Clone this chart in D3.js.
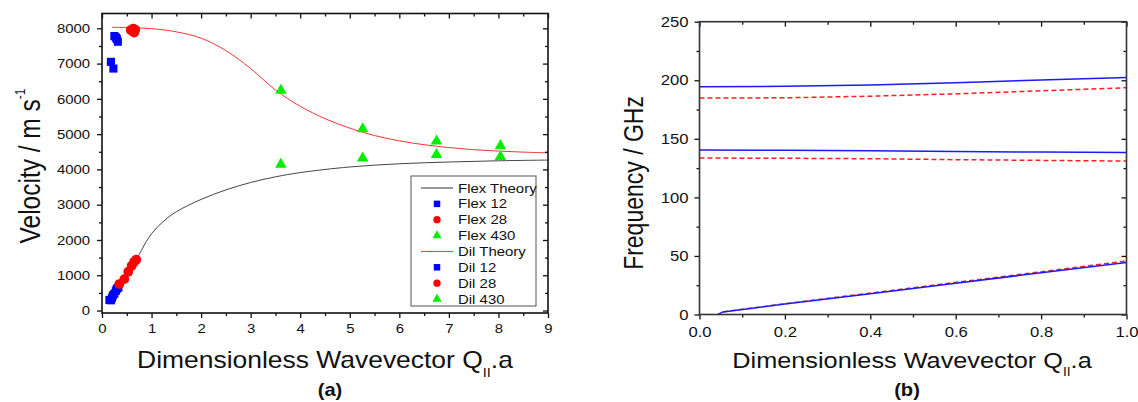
<!DOCTYPE html>
<html>
<head>
<meta charset="utf-8">
<script src="https://cdn.jsdelivr.net/npm/d3@7"></script>
<style>
  body { margin: 0; background: #fff; }
  svg text { font-family: "Liberation Sans", Arial, sans-serif; fill: #111; }
</style>
</head>
<body>
<svg id="fig" width="1138" height="402"></svg>
<script>

/*********************/
/*** DATA (a)      ***/
/*********************/

// theory curves, velocity vs dimensionless wavevector
let flexTheoryQ = [0.7, 0.8, 1.0, 1.25, 1.5, 2.0, 2.5, 3.0, 3.5, 4.0, 5.0, 6.0, 7.0, 8.0, 9.0],
    flexTheoryV = [1440, 1720, 2180, 2540, 2800, 3150, 3420, 3630, 3790, 3910, 4070, 4160, 4210, 4245, 4265];
let dilTheoryQ = [0.2, 0.5, 1.0, 1.5, 2.0, 2.5, 3.0, 3.5, 4.0, 4.5, 5.0, 5.5, 6.0, 6.5, 7.0, 7.5, 8.0, 8.5, 9.0],
    dilTheoryV = [8030, 8020, 7990, 7900, 7720, 7370, 6860, 6250, 5790, 5440, 5170, 4960, 4810, 4700, 4620, 4560, 4520, 4490, 4470];

// measured points
let flex12Q = [0.15, 0.18, 0.20, 0.22, 0.25, 0.28, 0.30, 0.33],
    flex12V = [300, 290, 360, 430, 480, 560, 620, 650];
let flex28Q = [0.35, 0.45, 0.53, 0.60, 0.65, 0.69],
    flex28V = [750, 890, 1100, 1270, 1380, 1440];
let flex430Q = [3.61, 5.26, 6.75, 8.04],
    flex430V = [4140, 4320, 4420, 4360];
let dil12Q = [0.18, 0.23, 0.25, 0.28, 0.30, 0.32],
    dil12V = [7050, 6860, 7780, 7740, 7700, 7620];
let dil28Q = [0.58, 0.62, 0.63, 0.65, 0.67],
    dil28V = [7950, 7910, 7990, 7880, 7960];
let dil430Q = [3.61, 5.26, 6.75, 8.04],
    dil430V = [6240, 5150, 4800, 4670];

let legendLabels = ["Flex Theory", "Flex 12", "Flex 28", "Flex 430", "Dil Theory", "Dil 12", "Dil 28", "Dil 430"],
    legendTypes  = ["line", "square", "circle", "triangle", "line", "square", "circle", "triangle"],
    legendColors = ["#333333", "#0000ff", "#ff0000", "#00ee00", "#ff3030", "#0000ff", "#ff0000", "#00ee00"];

let aXTicks = d3.range(0, 10, 1),
    aYTicks = d3.range(0, 9000, 1000);

/*********************/
/*** DATA (b)      ***/
/*********************/

let bandQ        = [0.0, 0.2, 0.4, 0.6, 0.8, 1.0],
    upperSolid   = [194.4, 194.8, 195.9, 197.9, 200.2, 202.4],
    upperDashed  = [184.8, 185.0, 186.4, 188.4, 191.0, 193.6],
    middleSolid  = [140.4, 140.2, 139.8, 139.2, 138.7, 138.4],
    middleDashed = [133.6, 133.4, 133.0, 132.2, 131.6, 131.0];
let acousticSolidQ  = [0.043, 0.055, 0.2, 0.4, 0.6, 0.8, 1.0],
    acousticSolidF  = [0.0, 2.2, 8.9, 17.8, 26.7, 35.6, 44.5],
    acousticDashedQ = [0.055, 0.2, 0.4, 0.6, 0.8, 1.0],
    acousticDashedF = [2.3, 9.2, 18.3, 27.4, 36.5, 45.7];

let bXTicks = [0, 0.2, 0.4, 0.6, 0.8, 1.0],
    bYTicks = [0, 50, 100, 150, 200, 250];

/*********************/
/*** INIT VARIABLE ***/
/*********************/

let SX = 1.15;   // source figure is stretched horizontally
let svg = d3.select("#fig");

let boxA = {left: 102, right: 548, top: 13.5, bottom: 313},
    boxB = {left: 699.5, right: 1126.5, top: 21.7, bottom: 314.5};

let xA = d3.scaleLinear().domain([0, 9]).range([boxA.left, boxA.right]),
    yA = d3.scaleLinear().domain([-70, 8420]).range([boxA.bottom, boxA.top]);
let xB = d3.scaleLinear().domain([0, 1]).range([boxB.left, boxB.right]),
    yB = d3.scaleLinear().domain([0, 250]).range([boxB.bottom, boxB.top]);

/********************************/
/*** DECLARE HELPER FUNCTIONS ***/
/********************************/

function drawAxes(box, x, y, o) {
    let g = svg.append("g").attr("color", "#111");

    // bottom: major with labels, minor ticks
    let bottom = g.append("g").attr("transform", `translate(0,${box.bottom})`)
        .call(d3.axisBottom(x).tickValues(o.xMajor).tickSize(5).tickSizeOuter(0)
              .tickPadding(o.xPad).tickFormat(o.xFmt));
    bottom.selectAll("text").attr("font-size", o.font).attr("transform", `scale(${SX},1)`)
        .attr("font-family", "Liberation Sans, Arial").attr("fill", "#111");
    g.append("g").attr("transform", `translate(0,${box.bottom})`)
        .call(d3.axisBottom(x).tickValues(o.xMinor).tickSize(3).tickSizeOuter(0).tickFormat(""));

    // top: inward ticks
    g.append("g").attr("transform", `translate(0,${box.top})`)
        .call(d3.axisTop(x).tickValues(o.xMajor).tickSize(-5).tickSizeOuter(0).tickFormat(""));
    g.append("g").attr("transform", `translate(0,${box.top})`)
        .call(d3.axisTop(x).tickValues(o.xMinor).tickSize(-3).tickSizeOuter(0).tickFormat(""));

    // left: outward with labels
    let left = g.append("g").attr("transform", `translate(${box.left},0)`)
        .call(d3.axisLeft(y).tickValues(o.yMajor).tickSize(5).tickSizeOuter(0)
              .tickPadding(o.yPad).tickFormat(o.yFmt));
    left.selectAll("text").attr("font-size", o.font).attr("transform", `scale(${SX},1)`)
        .attr("font-family", "Liberation Sans, Arial").attr("fill", "#111");
    g.append("g").attr("transform", `translate(${box.left},0)`)
        .call(d3.axisLeft(y).tickValues(o.yMinor).tickSize(3).tickSizeOuter(0).tickFormat(""));

    // right: inward ticks
    g.append("g").attr("transform", `translate(${box.right},0)`)
        .call(d3.axisRight(y).tickValues(o.yMajor).tickSize(-5).tickSizeOuter(0).tickFormat(""));
    g.append("g").attr("transform", `translate(${box.right},0)`)
        .call(d3.axisRight(y).tickValues(o.yMinor).tickSize(-3).tickSizeOuter(0).tickFormat(""));

    g.selectAll(".domain").remove();
    g.selectAll(".tick line").attr("stroke-width", 1.3);

    g.append("rect")
        .attr("x", box.left).attr("y", box.top)
        .attr("width", box.right - box.left).attr("height", box.bottom - box.top)
        .attr("fill", "none").attr("stroke", o.frame).attr("stroke-width", 1.6);
}

function xTitle(cx, baseline, size) {
    let t = svg.append("text")
        .attr("transform", `translate(${cx},${baseline}) scale(${SX},1)`)
        .attr("text-anchor", "middle").attr("font-size", size);
    t.append("tspan").text("Dimensionless Wavevector Q");
    t.append("tspan").attr("font-size", size * 0.55).attr("dy", size * 0.38).text("II");
    t.append("tspan").attr("dy", -size * 0.38).text(".a");
}

function panelTag(cx, baseline, label) {
    svg.append("text")
        .attr("transform", `translate(${cx},${baseline}) scale(${SX},1)`)
        .attr("text-anchor", "middle")
        .attr("font-family", "Liberation Mono, Courier New, monospace")
        .attr("font-weight", "bold").attr("font-size", 17.5)
        .text(label);
}

function drawPoints(qs, vs, type, color, size) {
    let sym = d3.symbol().type(type === "square" ? d3.symbolSquare
                             : type === "circle" ? d3.symbolCircle : d3.symbolTriangle).size(size);
    svg.append("g").selectAll("path").data(qs).join("path")
        .attr("d", sym)
        .attr("transform", (d, i) => `translate(${xA(d)},${yA(vs[i])})`)
        .attr("fill", color);
}

function curve(g, x, y, qs, vs, color, width, dash, shape) {
    let line = d3.line().x(d => x(d[0])).y(d => y(d[1])).curve(shape || d3.curveLinear);
    g.append("path")
        .datum(qs.map((q, i) => [q, vs[i]]))
        .attr("d", line)
        .attr("fill", "none")
        .attr("stroke", color)
        .attr("stroke-width", width)
        .attr("stroke-dasharray", dash || null);
}

/******************/
/*** PANEL (a)  ***/
/******************/

svg.append("clipPath").attr("id", "clipA").append("rect")
    .attr("x", boxA.left).attr("y", boxA.top)
    .attr("width", boxA.right - boxA.left).attr("height", boxA.bottom - boxA.top);
let plotA = svg.append("g").attr("clip-path", "url(#clipA)");

curve(plotA, xA, yA, flexTheoryQ, flexTheoryV, "#444", 1, null, d3.curveCatmullRom);
curve(plotA, xA, yA, dilTheoryQ, dilTheoryV, "#ff3030", 1, null, d3.curveCatmullRom);

drawPoints(flex430Q, flex430V, "triangle", "#00ee00", 58);
drawPoints(dil430Q, dil430V, "triangle", "#00ee00", 58);
drawPoints(flex12Q, flex12V, "square", "#0000ff", 66);
drawPoints(dil12Q, dil12V, "square", "#0000ff", 66);
drawPoints(flex28Q, flex28V, "circle", "#ff0000", 76);
drawPoints(dil28Q, dil28V, "circle", "#ff0000", 76);

drawAxes(boxA, xA, yA, {
    xMajor: aXTicks, xMinor: d3.range(0.5, 9, 1),
    yMajor: aYTicks, yMinor: d3.range(500, 8500, 1000),
    xFmt: d3.format("d"), yFmt: d3.format("d"),
    xPad: 6, yPad: 5.3, font: 13, frame: "#111"
});

// legend
let leg = svg.append("g");
leg.append("rect").attr("x", 411).attr("y", 176).attr("width", 125).attr("height", 130)
    .attr("fill", "#fff").attr("stroke", "#555").attr("stroke-width", 1);
let legRow = d3.scalePoint().domain(legendLabels).range([188, 299]);
legendLabels.forEach((lab, i) => {
    let ry = legRow(lab);
    if (legendTypes[i] === "line") {
        leg.append("line").attr("x1", 421).attr("x2", 453).attr("y1", ry).attr("y2", ry)
            .attr("stroke", legendColors[i]).attr("stroke-width", 1);
    } else {
        let t = legendTypes[i] === "square" ? d3.symbolSquare
              : legendTypes[i] === "circle" ? d3.symbolCircle : d3.symbolTriangle;
        leg.append("path").attr("d", d3.symbol().type(t).size(legendTypes[i] === "triangle" ? 36 : 42))
            .attr("transform", `translate(437,${ry})`).attr("fill", legendColors[i]);
    }
    leg.append("text").attr("transform", `translate(458,${ry + 4.5}) scale(${SX},1)`)
        .attr("font-size", 13).text(lab);
});

// titles
let yTitleA = svg.append("text")
    .attr("transform", `translate(39.5,166) scale(1.18,1) rotate(-90)`)
    .attr("text-anchor", "middle").attr("font-size", 24.5);
yTitleA.append("tspan").text("Velocity / m s");
yTitleA.append("tspan").attr("font-size", 12).attr("dy", -12).text("-1");

xTitle(325, 368, 23);
panelTag(330, 396, "(a)");

/******************/
/*** PANEL (b)  ***/
/******************/

let plotB = svg.append("g");
curve(plotB, xB, yB, bandQ, upperSolid, "#1a1aff", 1.5);
curve(plotB, xB, yB, bandQ, middleSolid, "#1a1aff", 1.5);
curve(plotB, xB, yB, acousticDashedQ, acousticDashedF, "#ff2020", 1.5, "5,3");
curve(plotB, xB, yB, acousticSolidQ, acousticSolidF, "#1a1aff", 1.5);
curve(plotB, xB, yB, bandQ, upperDashed, "#ff2020", 1.5, "5,3");
curve(plotB, xB, yB, bandQ, middleDashed, "#ff2020", 1.5, "5,3");

drawAxes(boxB, xB, yB, {
    xMajor: bXTicks, xMinor: [0.1, 0.3, 0.5, 0.7, 0.9],
    yMajor: bYTicks, yMinor: [25, 75, 125, 175, 225],
    xFmt: d3.format(".1f"), yFmt: d3.format("d"),
    xPad: 7, yPad: 4.6, font: 14.5, frame: "#333"
});

svg.append("text")
    .attr("transform", `translate(643,183) scale(1.18,1) rotate(-90)`)
    .attr("text-anchor", "middle").attr("font-size", 23)
    .text("Frequency / GHz");

xTitle(912, 368, 22);
panelTag(907, 396, "(b)");

</script>
</body>
</html>
